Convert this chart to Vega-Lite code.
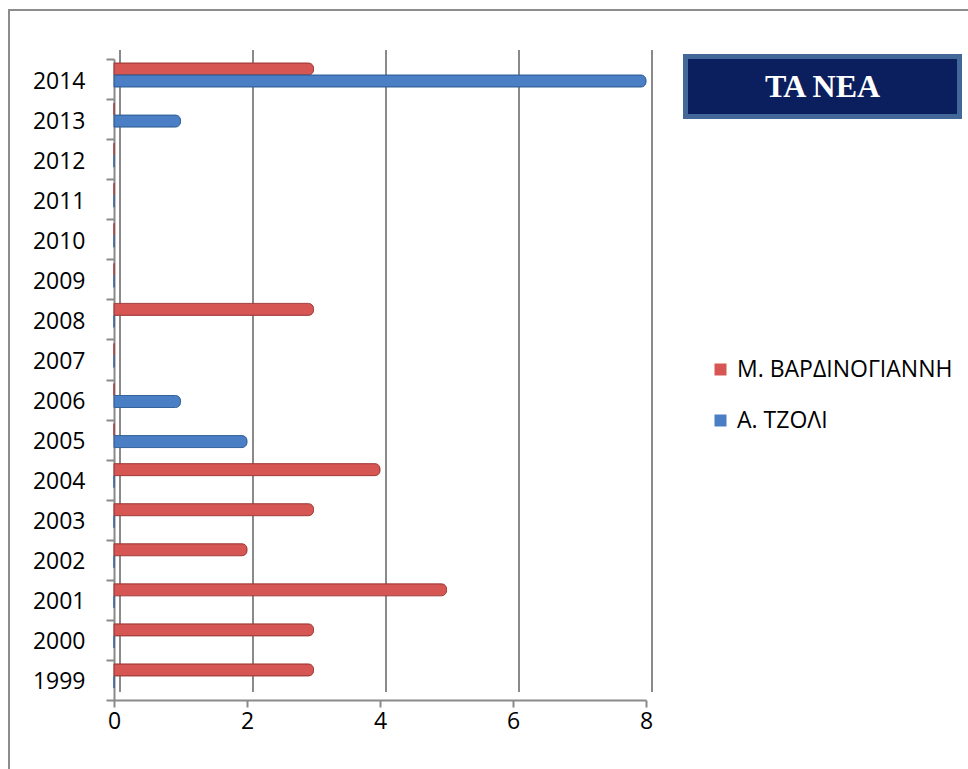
{
  "$schema": "https://vega.github.io/schema/vega-lite/v6.json",
  "padding": {"left": 8, "top": -2, "right": 0, "bottom": 0},
  "autosize": {"type": "pad"},
  "background": "white",
  "datasets": {
    "grid": [{"g": 0}, {"g": 2}, {"g": 4}, {"g": 6}, {"g": 8}],
    "bars": [
      {"year": "1999", "series": "Μ. ΒΑΡΔΙΝΟΓΙΑΝΝΗ", "value": 3},
      {"year": "1999", "series": "Α. ΤΖΟΛΙ", "value": 0},
      {"year": "2000", "series": "Μ. ΒΑΡΔΙΝΟΓΙΑΝΝΗ", "value": 3},
      {"year": "2000", "series": "Α. ΤΖΟΛΙ", "value": 0},
      {"year": "2001", "series": "Μ. ΒΑΡΔΙΝΟΓΙΑΝΝΗ", "value": 5},
      {"year": "2001", "series": "Α. ΤΖΟΛΙ", "value": 0},
      {"year": "2002", "series": "Μ. ΒΑΡΔΙΝΟΓΙΑΝΝΗ", "value": 2},
      {"year": "2002", "series": "Α. ΤΖΟΛΙ", "value": 0},
      {"year": "2003", "series": "Μ. ΒΑΡΔΙΝΟΓΙΑΝΝΗ", "value": 3},
      {"year": "2003", "series": "Α. ΤΖΟΛΙ", "value": 0},
      {"year": "2004", "series": "Μ. ΒΑΡΔΙΝΟΓΙΑΝΝΗ", "value": 4},
      {"year": "2004", "series": "Α. ΤΖΟΛΙ", "value": 0},
      {"year": "2005", "series": "Μ. ΒΑΡΔΙΝΟΓΙΑΝΝΗ", "value": 0},
      {"year": "2005", "series": "Α. ΤΖΟΛΙ", "value": 2},
      {"year": "2006", "series": "Μ. ΒΑΡΔΙΝΟΓΙΑΝΝΗ", "value": 0},
      {"year": "2006", "series": "Α. ΤΖΟΛΙ", "value": 1},
      {"year": "2007", "series": "Μ. ΒΑΡΔΙΝΟΓΙΑΝΝΗ", "value": 0},
      {"year": "2007", "series": "Α. ΤΖΟΛΙ", "value": 0},
      {"year": "2008", "series": "Μ. ΒΑΡΔΙΝΟΓΙΑΝΝΗ", "value": 3},
      {"year": "2008", "series": "Α. ΤΖΟΛΙ", "value": 0},
      {"year": "2009", "series": "Μ. ΒΑΡΔΙΝΟΓΙΑΝΝΗ", "value": 0},
      {"year": "2009", "series": "Α. ΤΖΟΛΙ", "value": 0},
      {"year": "2010", "series": "Μ. ΒΑΡΔΙΝΟΓΙΑΝΝΗ", "value": 0},
      {"year": "2010", "series": "Α. ΤΖΟΛΙ", "value": 0},
      {"year": "2011", "series": "Μ. ΒΑΡΔΙΝΟΓΙΑΝΝΗ", "value": 0},
      {"year": "2011", "series": "Α. ΤΖΟΛΙ", "value": 0},
      {"year": "2012", "series": "Μ. ΒΑΡΔΙΝΟΓΙΑΝΝΗ", "value": 0},
      {"year": "2012", "series": "Α. ΤΖΟΛΙ", "value": 0},
      {"year": "2013", "series": "Μ. ΒΑΡΔΙΝΟΓΙΑΝΝΗ", "value": 0},
      {"year": "2013", "series": "Α. ΤΖΟΛΙ", "value": 1},
      {"year": "2014", "series": "Μ. ΒΑΡΔΙΝΟΓΙΑΝΝΗ", "value": 3},
      {"year": "2014", "series": "Α. ΤΖΟΛΙ", "value": 8}
    ],
    "title": [{"t": "ΤΑ ΝΕΑ"}],
    "blank": [{"t": ""}]
  },
  "hconcat": [
    {
      "width": 970,
      "height": 770,
      "view": {"stroke": "#8c8c8c", "strokeWidth": 2},
      "layer": [
        {
          "data": {"name": "grid"},
          "mark": {"type": "rule", "color": "#8a8a8a", "strokeWidth": 2, "xOffset": 6},
          "encoding": {
            "x": {
              "field": "g", "type": "quantitative",
              "scale": {"domain": [0, 8], "range": [105, 637], "nice": false, "zero": false},
              "axis": {"title": null, "offset": -80, "values": [0, 2, 4, 6, 8], "grid": false, "labelFlush": false,
                "domainColor": "#8a8a8a", "domainWidth": 2, "tickColor": "#8a8a8a", "tickWidth": 2, "tickSize": 7,
                "labelFont": "Open Sans", "labelFontSize": 23, "labelColor": "#000000", "labelPadding": 3}
            },
            "y": {"datum": 0, "type": "quantitative", "scale": {"domain": [0, 1], "range": [682, 40]}, "axis": null},
            "y2": {"datum": 1}
          }
        },
        {
          "data": {"name": "bars"},
          "mark": {"type": "bar", "cornerRadiusEnd": 5, "strokeWidth": 1},
          "encoding": {
            "x": {
              "field": "value", "type": "quantitative",
              "scale": {"domain": [0, 8], "range": [105, 637], "nice": false, "zero": false},
              "axis": {"title": null, "offset": -80, "values": [0, 2, 4, 6, 8], "grid": false, "labelFlush": false,
                "domainColor": "#8a8a8a", "domainWidth": 2, "tickColor": "#8a8a8a", "tickWidth": 2, "tickSize": 7,
                "labelFont": "Open Sans", "labelFontSize": 23, "labelColor": "#000000", "labelPadding": 3}
            },
            "y": {
              "field": "year", "type": "ordinal", "sort": "descending",
              "scale": {"range": [49, 690], "paddingInner": 0, "paddingOuter": 0},
              "axis": {"title": null, "offset": -105, "grid": false, "tickBand": "extent",
                "domainColor": "#8a8a8a", "domainWidth": 2, "tickColor": "#8a8a8a", "tickWidth": 2, "tickSize": 8,
                "labelFont": "Open Sans", "labelFontSize": 23, "labelColor": "#000000", "labelPadding": 21, "labelOffset": 2}
            },
            "yOffset": {
              "field": "series", "type": "nominal",
              "sort": ["Μ. ΒΑΡΔΙΝΟΓΙΑΝΝΗ", "Α. ΤΖΟΛΙ"],
              "scale": {"range": [4, 28], "paddingInner": 0, "paddingOuter": 0}
            },
            "color": {
              "field": "series", "type": "nominal",
              "scale": {"domain": ["Μ. ΒΑΡΔΙΝΟΓΙΑΝΝΗ", "Α. ΤΖΟΛΙ"], "range": ["#d65653", "#4a7fc6"]},
              "legend": {"title": null, "orient": "none", "legendX": 700, "legendY": 348,
                "symbolType": "square", "symbolSize": 144, "symbolStrokeWidth": 0,
                "labelFont": "Open Sans", "labelFontSize": 23, "labelColor": "#000000", "labelLimit": 0,
                "labelOffset": 5, "rowPadding": 27, "padding": 0}
            },
            "stroke": {
              "field": "series", "type": "nominal",
              "scale": {"domain": ["Μ. ΒΑΡΔΙΝΟΓΙΑΝΝΗ", "Α. ΤΖΟΛΙ"], "range": ["#a33d3a", "#35639b"]},
              "legend": null
            }
          }
        }
      ],
      "resolve": {"scale": {"y": "independent"}}
    },
    {
      "vconcat": [
        {
          "width": 274, "height": 30,
          "view": {"stroke": null},
          "data": {"name": "blank"},
          "mark": {"type": "text"},
          "encoding": {"text": {"field": "t"}}
        },
        {
          "width": 274, "height": 60,
          "view": {"fill": "#0b1f5e", "stroke": "#44679a", "strokeWidth": 5},
          "data": {"name": "title"},
          "mark": {"type": "text", "font": "Liberation Serif", "fontWeight": "bold", "fontSize": 32, "color": "#ffffff", "align": "center", "baseline": "middle"},
          "encoding": {"text": {"field": "t"}}
        }
      ],
      "spacing": 16.5,
      "bounds": "flush"
    }
  ],
  "spacing": -293.5,
  "bounds": "flush",
  "align": "none"
}
